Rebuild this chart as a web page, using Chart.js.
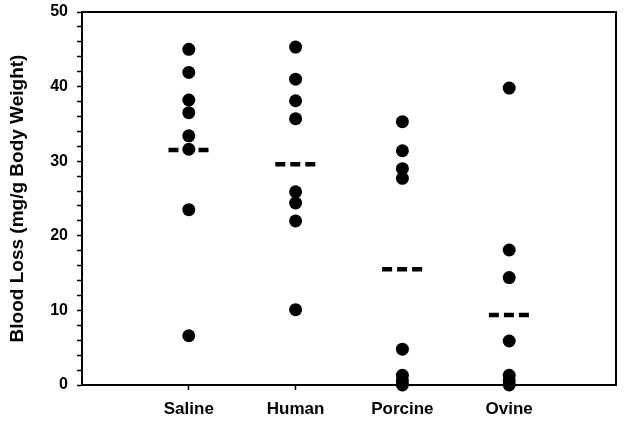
<!DOCTYPE html>
<html>
<head>
<meta charset="utf-8">
<script src="https://cdn.jsdelivr.net/npm/chart.js@4/dist/chart.umd.min.js"></script>
<style>
  html, body { margin: 0; padding: 0; background: #fff; }
  #wrap { width: 624px; height: 422px; }
</style>
</head>
<body>
<div id="wrap"><canvas id="chart"></canvas></div>
<script>
const categories = ['Saline', 'Human', 'Porcine', 'Ovine'];
const saline = [45.0, 41.9, 38.2, 36.5, 33.4, 31.6, 23.5, 6.6];
const human = [45.3, 41.0, 38.1, 35.7, 25.9, 24.4, 22.0, 10.1];
const porcine = [35.3, 31.4, 29.0, 27.7, 4.8, 1.3, 0.6, 0.0];
const ovine = [39.8, 18.1, 14.4, 5.9, 1.3, 0.6, 0.0];
const means = [31.5, 29.6, 15.5, 9.4];
const yTicks = [0, 10, 20, 30, 40, 50];

const groups = [saline, human, porcine, ovine];
const fam = 'Liberation Sans, Arial, sans-serif';

// точки по группам
const dotSets = groups.map((vals, i) => ({
    type: 'scatter',
    data: vals.map(v => ({ x: i + 1, y: v })),
    pointRadius: 6.5,
    pointHoverRadius: 6.5,
    backgroundColor: '#000',
    borderColor: '#000',
    borderWidth: 0,
    clip: false
}));

// средние — пунктир
const meanSets = means.map((m, i) => ({
    type: 'line',
    data: [{ x: i + 1 - 0.19, y: m }, { x: i + 1 + 0.19, y: m }],
    borderColor: '#000',
    borderWidth: 4.5,
    borderDash: [10, 5],
    pointRadius: 0,
    fill: false,
    clip: false
}));

const boxPlugin = {
    id: 'box',
    beforeDatasetsDraw(chart) {
        const a = chart.chartArea, c = chart.ctx;
        c.save();
        c.strokeStyle = '#000';
        c.lineWidth = 2;
        c.beginPath();
        c.moveTo(a.left, a.top);
        c.lineTo(a.right, a.top);
        c.lineTo(a.right, a.bottom);
        c.stroke();
        c.restore();
    }
};

new Chart(document.getElementById('chart'), {
    data: { datasets: [...meanSets, ...dotSets] },
    options: {
        responsive: true,
        maintainAspectRatio: false,
        animation: false,
        layout: { padding: { top: 12, right: 8, left: 0, bottom: 0 } },
        plugins: { legend: { display: false }, tooltip: { enabled: false } },
        scales: {
            x: {
                type: 'linear',
                min: 0,
                max: 5,
                afterBuildTicks: s => { s.ticks = categories.map((c, i) => ({ value: i + 1 })); },
                afterFit: s => { s.height = 37; s.paddingLeft = 0; s.paddingRight = 0; },
                ticks: {
                    color: '#000',
                    font: { family: fam, weight: 'bold', size: 17 },
                    padding: 9,
                    maxRotation: 0,
                    callback: v => categories[v - 1] || ''
                },
                grid: { drawOnChartArea: false, tickLength: 5, tickColor: '#000', tickWidth: 1.5 },
                border: { display: true, color: '#000', width: 2 }
            },
            y: {
                min: 0,
                max: 50,
                afterBuildTicks: s => {
                    const t = [];
                    for (let v = 0; v <= 50; v += 2) t.push({ value: v });
                    s.ticks = t;
                },
                afterFit: s => { s.width = 82; s.paddingTop = 0; s.paddingBottom = 0; },
                ticks: {
                    color: '#000',
                    font: { family: fam, weight: 'bold', size: 16 },
                    padding: 9,
                    autoSkip: false,
                    callback: v => yTicks.includes(v) ? v : ''
                },
                grid: { drawOnChartArea: false, tickLength: 5, tickColor: '#000', tickWidth: 1.5 },
                border: { display: true, color: '#000', width: 2 },
                title: {
                    display: true,
                    text: 'Blood Loss (mg/g Body Weight)',
                    color: '#000',
                    font: { family: fam, weight: 'bold', size: 19 },
                    padding: { top: 6, bottom: 0 }
                }
            }
        }
    },
    plugins: [boxPlugin]
});
</script>
</body>
</html>
